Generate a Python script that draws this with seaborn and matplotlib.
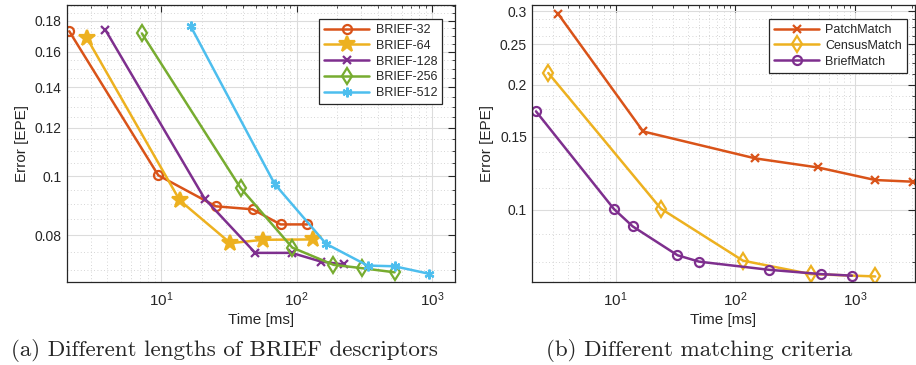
import numpy as np
import pandas as pd
import matplotlib
matplotlib.use('Agg')
import matplotlib.pyplot as plt
import seaborn as sns
from matplotlib.ticker import LogLocator, FixedLocator, NullFormatter

# ---- data ----
b32_t = [2.09, 9.5, 25.3, 47.2, 76, 120]
b32_e = [0.1729, 0.1003, 0.0892, 0.0882, 0.0833, 0.0833]
b64_t = [2.81, 13.7, 32.4, 56.6, 133]
b64_e = [0.1688, 0.0912, 0.0776, 0.0786, 0.0787]
b128_t = [3.87, 20.9, 49.4, 91.8, 150.6, 222]
b128_e = [0.1737, 0.0918, 0.0748, 0.0748, 0.0724, 0.0716]
b256_t = [7.19, 38.5, 92.9, 187, 303, 529]
b256_e = [0.1715, 0.0956, 0.0763, 0.0715, 0.0706, 0.0695]
b512_t = [16.5, 68.7, 165, 334, 529, 955]
b512_e = [0.1762, 0.0971, 0.0774, 0.0713, 0.0711, 0.0691]

patch_t = [3.33, 17.0, 146.8, 488, 1468, 3020]
patch_e = [0.2957, 0.1543, 0.1329, 0.1264, 0.1179, 0.1168]
census_t = [2.75, 23.9, 115.8, 427, 1468]
census_e = [0.2133, 0.1006, 0.0754, 0.0700, 0.0691]
brief_t = [2.17, 9.7, 13.9, 32.9, 49.8, 190, 521, 938]
brief_e = [0.1725, 0.1004, 0.0912, 0.0777, 0.0750, 0.0717, 0.0700, 0.0694]

left_yticks = [0.08, 0.1, 0.12, 0.14, 0.16, 0.18]
left_ylabels = ['0.08', '0.1', '0.12', '0.14', '0.16', '0.18']
right_yticks = [0.1, 0.15, 0.2, 0.25, 0.3]
right_ylabels = ['0.1', '0.15', '0.2', '0.25', '0.3']

ORANGE = '#D95319'
YELLOW = '#EDB120'
PURPLE = '#7E2F8E'
GREEN = '#77AC30'
CYAN = '#4DBEEE'
AX_COL = '#262626'

sns.set_style('white')
plt.rcParams['font.family'] = ['Liberation Sans', 'DejaVu Sans']
plt.rcParams['mathtext.fontset'] = 'custom'
plt.rcParams['mathtext.rm'] = 'Liberation Sans'
plt.rcParams['mathtext.it'] = 'Liberation Sans'

fig = plt.figure(figsize=(9.16, 3.65), dpi=100)
ax1 = fig.add_axes([0.0728, 0.2274, 0.424, 0.759])
ax2 = fig.add_axes([0.5805, 0.2274, 0.4185, 0.759])

left_series = [
    ('BRIEF-32', b32_t, b32_e, ORANGE, 'o', 6.5, 'none'),
    ('BRIEF-64', b64_t, b64_e, YELLOW, '*', 12, YELLOW),
    ('BRIEF-128', b128_t, b128_e, PURPLE, 'x', 6, PURPLE),
    ('BRIEF-256', b256_t, b256_e, GREEN, 'd', 8, 'none'),
    ('BRIEF-512', b512_t, b512_e, CYAN, (6, 2, 0), 7, CYAN),
]
right_series = [
    ('PatchMatch', patch_t, patch_e, ORANGE, 'x', 6, ORANGE),
    ('CensusMatch', census_t, census_e, YELLOW, 'd', 8, 'none'),
    ('BriefMatch', brief_t, brief_e, PURPLE, 'o', 6.5, 'none'),
]

for ax, series in [(ax1, left_series), (ax2, right_series)]:
    for name, xs, ys, col, mk, ms, mfc in series:
        df = pd.DataFrame({'t': xs, 'e': ys})
        sns.lineplot(data=df, x='t', y='e', ax=ax, sort=False, color=col,
                     linewidth=1.8, marker=mk, markersize=ms,
                     markerfacecolor=mfc, markeredgecolor=col,
                     markeredgewidth=1.6, label=name)

def style_axis(ax, xlim, ylim, yticks, ylabels, minor_step, leg_anchor):
    ax.set_xscale('log')
    ax.set_yscale('log')
    ax.set_xlim(*xlim)
    ax.set_ylim(*ylim)
    ax.set_xticks([10, 100, 1000])
    ax.xaxis.set_minor_locator(LogLocator(base=10, subs=np.arange(2, 10)))
    ax.xaxis.set_minor_formatter(NullFormatter())
    ax.set_yticks(yticks)
    ax.set_yticklabels(ylabels)
    minors = np.arange(0.05, 0.35, minor_step)
    minors = [m for m in minors if all(abs(m - t) > 1e-6 for t in yticks)]
    ax.yaxis.set_minor_locator(FixedLocator(minors))
    ax.yaxis.set_minor_formatter(NullFormatter())
    ax.grid(True, which='major', color='#dcdcdc', linestyle='-', linewidth=0.8)
    ax.grid(True, which='minor', color='#c8c8c8', linestyle=(0, (1, 3)), linewidth=0.6)
    ax.set_axisbelow(True)
    ax.tick_params(which='both', direction='in', top=True, right=True,
                   color=AX_COL, labelcolor=AX_COL, labelsize=10)
    ax.tick_params(axis='x', which='major', labelsize=11, pad=6)
    ax.tick_params(which='major', length=5, width=0.8)
    ax.tick_params(which='minor', length=2.5, width=0.6)
    for s in ax.spines.values():
        s.set_color(AX_COL)
        s.set_linewidth(0.9)
    ax.set_xlabel('Time [ms]', fontsize=11, color=AX_COL, labelpad=3)
    ax.set_ylabel('Error [EPE]', fontsize=11, color=AX_COL, labelpad=4)
    leg = ax.legend(loc='upper right', bbox_to_anchor=leg_anchor, borderaxespad=0,
                    fancybox=False, framealpha=1, edgecolor=AX_COL, fontsize=9,
                    handlelength=3.6, handletextpad=0.5, labelspacing=0.3,
                    borderpad=0.4)
    leg.get_frame().set_linewidth(0.9)

style_axis(ax1, (2, 1480), (0.067, 0.191), left_yticks, left_ylabels, 0.005,
           (0.9665, 0.949))
style_axis(ax2, (2, 3160), (0.067, 0.311), right_yticks, right_ylabels, 0.0125,
           (0.979, 0.949))

fig.text(224 / 916, 1 - 351 / 365, '(a) Different lengths of BRIEF descriptors',
         family='cmr10', fontsize=16.6, ha='center', va='center')
fig.text(699 / 916, 1 - 351 / 365, '(b) Different matching criteria',
         family='cmr10', fontsize=16.6, ha='center', va='center')

fig.savefig('out.png', dpi=100)
